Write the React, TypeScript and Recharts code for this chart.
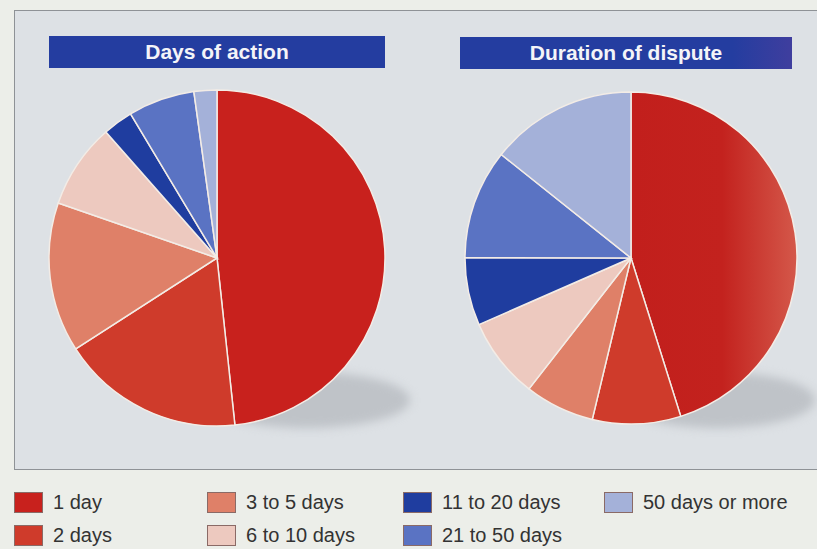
import React from "react";
import { PieChart, Pie, Cell } from "recharts";

// Share of disputes by length, two views side by side.
const categories = ["1 day", "2 days", "3 to 5 days", "6 to 10 days", "11 to 20 days", "21 to 50 days", "50 days or more"];
const daysOfAction = [48.3, 17.6, 14.4, 8.2, 2.9, 6.4, 2.2];
const durationOfDispute = [45.2, 8.6, 6.8, 7.9, 6.6, 10.7, 14.3];
const colors = ["#c8211d", "#cf3b2b", "#df8068", "#edc9bf", "#1f3d9f", "#5a73c3", "#a4b1d9"];
const titles = ["Days of action", "Duration of dispute"];

const leftData = categories.map((name, i) => ({ name, value: daysOfAction[i] }));
const rightData = categories.map((name, i) => ({ name, value: durationOfDispute[i] }));

const FONT = '"Liberation Sans", Arial, Helvetica, sans-serif';

function TitleBar({ text, left, top, width, gradient }: { text: string; left: number; top: number; width: number; gradient?: boolean }) {
  return (
    <div
      style={{
        position: "absolute",
        left,
        top,
        width,
        height: 32,
        background: gradient ? "linear-gradient(90deg, #243da0 0%, #243da0 82%, #3f3e9e 100%)" : "#243da0",
        color: "#f4f4f8",
        fontFamily: FONT,
        fontWeight: 700,
        fontSize: 21,
        lineHeight: "32px",
        textAlign: "center",
      }}
    >
      {text}
    </div>
  );
}

function Shadow({ left, top, w, h }: { left: number; top: number; w: number; h: number }) {
  return (
    <div
      style={{
        position: "absolute",
        left,
        top,
        width: w,
        height: h,
        borderRadius: "50%",
        background: "#bfc3c8",
        filter: "blur(5px)",
      }}
    />
  );
}

export default function App() {
  return (
    <div style={{ position: "fixed", left: 0, top: 0, width: 817, height: 549, background: "#eceee9", overflow: "hidden", fontFamily: FONT }}>
      {/* panel */}
      <div
        style={{
          position: "absolute",
          left: 14,
          top: 10,
          width: 830,
          height: 460,
          background: "#dde1e5",
          border: "1px solid #8e9296",
          boxSizing: "border-box",
        }}
      />
      <Shadow left={205} top={372} w={205} h={56} />
      <Shadow left={620} top={372} w={195} h={56} />
      <TitleBar text={titles[0]} left={49} top={36} width={336} />
      <TitleBar text={titles[1]} left={460} top={37} width={332} gradient />
      <div style={{ position: "absolute", left: 0, top: 0 }}>
        <PieChart width={817} height={470} margin={{ top: 0, right: 0, bottom: 0, left: 0 }}>
          <defs>
            <linearGradient id="redShade" x1="0" y1="0" x2="1" y2="0">
              <stop offset="0%" stopColor="#c21f1c" />
              <stop offset="55%" stopColor="#c3221e" />
              <stop offset="100%" stopColor="#d4584a" />
            </linearGradient>
          </defs>
          <Pie
            data={leftData}
            dataKey="value"
            nameKey="name"
            cx={217}
            cy={258}
            outerRadius={168}
            startAngle={90}
            endAngle={-270}
            stroke="#f3ece6"
            strokeWidth={1.5}
            isAnimationActive={false}
          >
            {leftData.map((d, i) => (
              <Cell key={d.name} fill={colors[i]} />
            ))}
          </Pie>
          <Pie
            data={rightData}
            dataKey="value"
            nameKey="name"
            cx={631}
            cy={258}
            outerRadius={166}
            startAngle={90}
            endAngle={-270}
            stroke="#f3ece6"
            strokeWidth={1.5}
            isAnimationActive={false}
          >
            {rightData.map((d, i) => (
              <Cell key={d.name} fill={i === 0 ? "url(#redShade)" : colors[i]} />
            ))}
          </Pie>
        </PieChart>
      </div>
      {/* legend: four columns, two rows */}
      {categories.map((name, i) => {
        const col = Math.floor(i / 2);
        const row = i % 2;
        const colX = [14, 207, 403, 604][col];
        return (
          <div key={name} style={{ position: "absolute", left: colX, top: 491 + row * 33, display: "flex", alignItems: "center", height: 22 }}>
            <div style={{ width: 29, height: 21, background: colors[i], border: "1px solid #8a6a66", boxSizing: "border-box" }} />
            <span style={{ marginLeft: 10, fontSize: 20, color: "#333", whiteSpace: "nowrap" }}>{name}</span>
          </div>
        );
      })}
    </div>
  );
}
